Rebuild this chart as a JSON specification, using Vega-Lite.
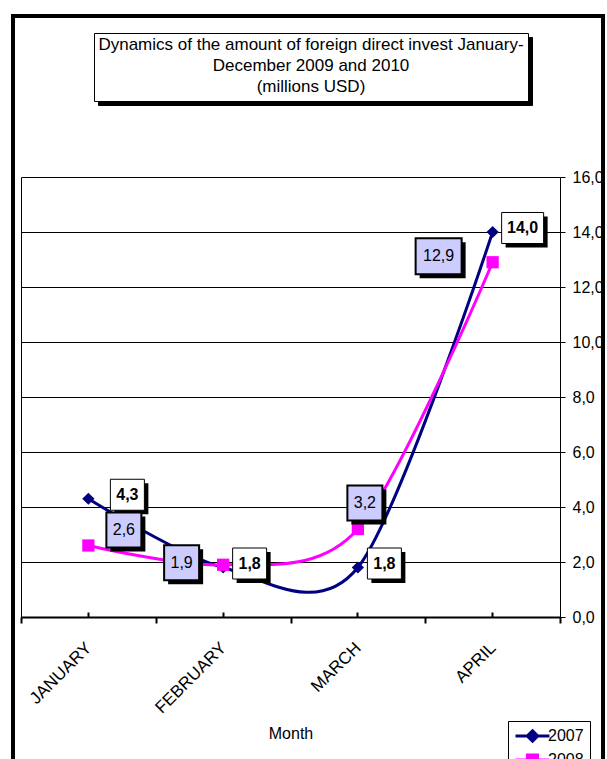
{
  "$schema": "https://vega.github.io/schema/vega-lite/v6.json",
  "width": 590,
  "height": 750,
  "autosize": {"type": "none"},
  "padding": {"left": 13, "top": 16, "right": 4, "bottom": 0},
  "background": "white",
  "config": {
    "font": "Liberation Sans",
    "view": {"stroke": "black", "strokeWidth": 4},
    "locale": {"number": {"decimal": ",", "thousands": ".", "grouping": [3], "currency": ["", " €"]}},
    "axis": {"labelFont": "Liberation Sans", "titleFont": "Liberation Sans", "labelColor": "black", "titleColor": "black"}
  },
  "data": {
    "values": [
      {"month": "JANUARY", "series": "2007", "value": 4.3},
      {"month": "FEBRUARY", "series": "2007", "value": 1.8},
      {"month": "MARCH", "series": "2007", "value": 1.8},
      {"month": "APRIL", "series": "2007", "value": 14.0},
      {"month": "JANUARY", "series": "2008", "value": 2.6},
      {"month": "FEBRUARY", "series": "2008", "value": 1.9},
      {"month": "MARCH", "series": "2008", "value": 3.2},
      {"month": "APRIL", "series": "2008", "value": 12.9}
    ]
  },
  "encoding": {
    "x": {"field": "month", "type": "nominal", "sort": ["JANUARY", "FEBRUARY", "MARCH", "APRIL"], "scale": {"type": "band", "range": [8, 547], "paddingInner": 0, "paddingOuter": 0}, "axis": null},
    "y": {"field": "value", "type": "quantitative", "scale": {"domain": [0, 16], "range": [601, 161], "nice": false}, "axis": null}
  },
  "resolve": {"axis": {"x": "independent", "y": "independent"}},
  "layer": [
    {
      "transform": [{"filter": "false"}],
      "mark": {"type": "point", "opacity": 1},
      "encoding": {
        "color": {"field": "series", "type": "nominal", "scale": {"domain": ["s"], "range": ["black"]},
          "legend": {"orient": "none", "legendX": 85, "legendY": 21, "title": ["Dynamics of the amount of foreign direct invest January-", "December 2009 and  2010", "(millions USD)"], "titleFont": "Liberation Sans", "titleFontSize": 17, "titleFontWeight": "normal", "titleColor": "black", "titleOpacity": 0, "titleLineHeight": 21, "titleAlign": "center", "titleAnchor": "middle", "titleLimit": 700, "titlePadding": 0, "padding": 4, "fillColor": "black", "strokeColor": "black", "symbolSize": 1, "symbolOpacity": 0, "symbolStrokeWidth": 0, "labelFontSize": 1, "labelOpacity": 0, "labelExpr": "''", "rowPadding": 0}}
      }
    },
    {
      "transform": [{"filter": "false"}],
      "mark": {"type": "point", "opacity": 1},
      "encoding": {
        "strokeDash": {"field": "series", "type": "nominal", "scale": {"domain": ["t"]},
          "legend": {"orient": "none", "legendX": 81, "legendY": 17, "title": ["Dynamics of the amount of foreign direct invest January-", "December 2009 and  2010", "(millions USD)"], "titleFont": "Liberation Sans", "titleFontSize": 17, "titleFontWeight": "normal", "titleColor": "black", "titleLineHeight": 21, "titleAlign": "center", "titleAnchor": "middle", "titleLimit": 700, "titlePadding": 0, "padding": 4, "fillColor": "white", "strokeColor": "black", "symbolSize": 1, "symbolOpacity": 0, "symbolStrokeWidth": 0, "labelFontSize": 1, "labelOpacity": 0, "labelExpr": "''", "rowPadding": 0}}
      }
    },
    {
      "mark": {"type": "point", "opacity": 0},
      "encoding": {
        "x": {"field": "month", "type": "nominal", "sort": ["JANUARY", "FEBRUARY", "MARCH", "APRIL"], "scale": {"type": "band", "range": [8, 547], "paddingInner": 0, "paddingOuter": 0},
          "axis": {"orient": "bottom", "offset": -149, "tickBand": "extent", "ticks": true, "tickSize": 6, "tickColor": "black", "tickWidth": 2, "domainColor": "black", "domainWidth": 2, "grid": false, "labelAngle": -45, "labelBaseline": "middle", "labelAlign": "right", "labelFontSize": 17, "labelPadding": 22, "labelDx": -4, "labelDy": -4, "title": "Month", "titleFontSize": 16, "titleFontWeight": "normal", "titlePadding": 10}},
        "y": {"field": "value", "type": "quantitative", "scale": {"domain": [0, 16], "range": [601, 161], "nice": false},
          "axis": {"orient": "right", "offset": -43, "values": [0, 2, 4, 6, 8, 10, 12, 14, 16], "format": ".1f", "grid": false, "domainColor": "black", "domainWidth": 1, "tickColor": "black", "tickSize": 5, "labelFontSize": 16, "labelPadding": 7, "title": null}}
      }
    },
    {
      "mark": {"type": "point", "opacity": 0},
      "encoding": {
        "x": {"field": "month", "type": "nominal", "sort": ["JANUARY", "FEBRUARY", "MARCH", "APRIL"], "scale": {"type": "band", "range": [8, 547], "paddingInner": 0, "paddingOuter": 0},
          "axis": {"orient": "top", "offset": -601, "tickBand": "center", "ticks": true, "tickSize": 5, "tickWidth": 2, "tickColor": "black", "domain": false, "labels": false, "grid": false, "title": null}}
      }
    },
    {
      "mark": {"type": "point", "opacity": 0},
      "encoding": {
        "y": {"field": "value", "type": "quantitative", "scale": {"domain": [0, 16], "range": [601, 161], "nice": false},
          "axis": {"orient": "left", "offset": -8, "values": [0, 2, 4, 6, 8, 10, 12, 14, 16], "ticks": false, "labels": false, "grid": true, "gridColor": "black", "gridWidth": 1, "gridOpacity": 1, "domainColor": "black", "domainWidth": 1, "title": null}}
      }
    },
    {
      "transform": [{"filter": "datum.series == '2007'"}],
      "mark": {"type": "line", "interpolate": "cardinal", "tension": 0.1, "color": "#000080", "strokeWidth": 3}
    },
    {
      "transform": [{"filter": "datum.series == '2007'"}],
      "mark": {"type": "point", "shape": "diamond", "size": 150, "filled": true, "color": "#000080", "opacity": 1}
    },
    {
      "transform": [{"filter": "datum.series == '2008'"}],
      "mark": {"type": "line", "interpolate": "cardinal", "tension": 0.1, "color": "#FF00FF", "strokeWidth": 3}
    },
    {
      "transform": [{"filter": "datum.series == '2008'"}],
      "mark": {"type": "point", "shape": "square", "size": 150, "filled": true, "color": "#FF00FF", "opacity": 1}
    },
    {
      "transform": [{"filter": "datum.series == '2007' && datum.month == 'JANUARY'"}],
      "layer": [
        {"mark": {"type": "point", "shape": "M26,-15.5H60V15.5H26Z", "size": 4, "filled": true, "fill": "black", "strokeWidth": 0, "opacity": 1}},
        {"mark": {"type": "point", "shape": "M22,-19.5H56V11.5H22Z", "size": 4, "filled": true, "fill": "white", "stroke": "black", "strokeWidth": 1, "opacity": 1}},
        {"mark": {"type": "text", "dx": 39, "dy": -4, "fontSize": 16, "fontWeight": "bold", "color": "black"}, "encoding": {"text": {"field": "value", "type": "quantitative", "format": ".1f"}}}
      ]
    },
    {
      "transform": [{"filter": "datum.series == '2007' && (datum.month == 'FEBRUARY' || datum.month == 'MARCH')"}],
      "layer": [
        {"mark": {"type": "point", "shape": "M13.5,-15.5H47.5V15.5H13.5Z", "size": 4, "filled": true, "fill": "black", "strokeWidth": 0, "opacity": 1}},
        {"mark": {"type": "point", "shape": "M9.5,-19.5H43.5V11.5H9.5Z", "size": 4, "filled": true, "fill": "white", "stroke": "black", "strokeWidth": 1, "opacity": 1}},
        {"mark": {"type": "text", "dx": 26.5, "dy": -4, "fontSize": 16, "fontWeight": "bold", "color": "black"}, "encoding": {"text": {"field": "value", "type": "quantitative", "format": ".1f"}}}
      ]
    },
    {
      "transform": [{"filter": "datum.series == '2007' && datum.month == 'APRIL'"}],
      "layer": [
        {"mark": {"type": "point", "shape": "M13,-15.5H55V15.5H13Z", "size": 4, "filled": true, "fill": "black", "strokeWidth": 0, "opacity": 1}},
        {"mark": {"type": "point", "shape": "M9,-19.5H51V11.5H9Z", "size": 4, "filled": true, "fill": "white", "stroke": "black", "strokeWidth": 1, "opacity": 1}},
        {"mark": {"type": "text", "dx": 30, "dy": -4, "fontSize": 16, "fontWeight": "bold", "color": "black"}, "encoding": {"text": {"field": "value", "type": "quantitative", "format": ".1f"}}}
      ]
    },
    {
      "transform": [{"filter": "datum.series == '2008' && datum.month == 'JANUARY'"}],
      "layer": [
        {"mark": {"type": "point", "shape": "M22,-29H57V6H22Z", "size": 4, "filled": true, "fill": "black", "strokeWidth": 0, "opacity": 1}},
        {"mark": {"type": "point", "shape": "M18,-33H53V2H18Z", "size": 4, "filled": true, "fill": "#CCCCFF", "stroke": "black", "strokeWidth": 2, "opacity": 1}},
        {"mark": {"type": "text", "dx": 35.5, "dy": -15.5, "fontSize": 16, "color": "black"}, "encoding": {"text": {"field": "value", "type": "quantitative", "format": ".1f"}}}
      ]
    },
    {
      "transform": [{"filter": "datum.series == '2008' && datum.month == 'FEBRUARY'"}],
      "layer": [
        {"mark": {"type": "point", "shape": "M-55,-15.5H-20V19.5H-55Z", "size": 4, "filled": true, "fill": "black", "strokeWidth": 0, "opacity": 1}},
        {"mark": {"type": "point", "shape": "M-59,-19.5H-24V15.5H-59Z", "size": 4, "filled": true, "fill": "#CCCCFF", "stroke": "black", "strokeWidth": 2, "opacity": 1}},
        {"mark": {"type": "text", "dx": -41.5, "dy": -2, "fontSize": 16, "color": "black"}, "encoding": {"text": {"field": "value", "type": "quantitative", "format": ".1f"}}}
      ]
    },
    {
      "transform": [{"filter": "datum.series == '2008' && datum.month == 'MARCH'"}],
      "layer": [
        {"mark": {"type": "point", "shape": "M-6.5,-39.5H28.5V-4.5H-6.5Z", "size": 4, "filled": true, "fill": "black", "strokeWidth": 0, "opacity": 1}},
        {"mark": {"type": "point", "shape": "M-10.5,-43.5H24.5V-8.5H-10.5Z", "size": 4, "filled": true, "fill": "#CCCCFF", "stroke": "black", "strokeWidth": 2, "opacity": 1}},
        {"mark": {"type": "text", "dx": 7, "dy": -26, "fontSize": 16, "color": "black"}, "encoding": {"text": {"field": "value", "type": "quantitative", "format": ".1f"}}}
      ]
    },
    {
      "transform": [{"filter": "datum.series == '2008' && datum.month == 'APRIL'"}],
      "layer": [
        {"mark": {"type": "point", "shape": "M-73,-20H-27V16H-73Z", "size": 4, "filled": true, "fill": "black", "strokeWidth": 0, "opacity": 1}},
        {"mark": {"type": "point", "shape": "M-77,-24H-31V12H-77Z", "size": 4, "filled": true, "fill": "#CCCCFF", "stroke": "black", "strokeWidth": 2, "opacity": 1}},
        {"mark": {"type": "text", "dx": -54, "dy": -6, "fontSize": 16, "color": "black"}, "encoding": {"text": {"field": "value", "type": "quantitative", "format": ".1f"}}}
      ]
    },
    {
      "transform": [{"filter": "false"}],
      "mark": {"type": "point", "filled": true, "opacity": 1, "size": 225, "strokeWidth": 3},
      "encoding": {
        "fill": {"field": "series", "type": "nominal", "scale": {"domain": ["2007", "2008"], "range": ["#000080", "#FF00FF"]},
          "legend": {"title": null, "orient": "none", "legendX": 495, "legendY": 705, "strokeColor": "black", "fillColor": "white", "padding": 6, "labelFont": "Liberation Sans", "labelFontSize": 16, "labelColor": "black", "symbolSize": 225, "symbolStrokeWidth": 3, "rowPadding": 0, "labelOffset": 16}},
        "stroke": {"field": "series", "type": "nominal", "scale": {"domain": ["2007", "2008"], "range": ["#000080", "#FF00FF"]},
          "legend": {"title": null, "orient": "none", "legendX": 495, "legendY": 705, "strokeColor": "black", "fillColor": "white", "padding": 6, "labelFont": "Liberation Sans", "labelFontSize": 16, "labelColor": "black", "symbolSize": 225, "symbolStrokeWidth": 3, "rowPadding": 0, "labelOffset": 16}},
        "shape": {"field": "series", "type": "nominal", "scale": {"domain": ["2007", "2008"], "range": ["M-1,0H3.53M1.27,-0.7L1.97,0L1.27,0.7L0.57,0Z", "M-1,0H3.53M0.6,-0.67H1.93V0.67H0.6Z"]},
          "legend": {"title": null, "orient": "none", "legendX": 495, "legendY": 705, "strokeColor": "black", "fillColor": "white", "padding": 6, "labelFont": "Liberation Sans", "labelFontSize": 16, "labelColor": "black", "symbolSize": 225, "symbolStrokeWidth": 3, "rowPadding": 0, "labelOffset": 16}}
      }
    }
  ]
}
